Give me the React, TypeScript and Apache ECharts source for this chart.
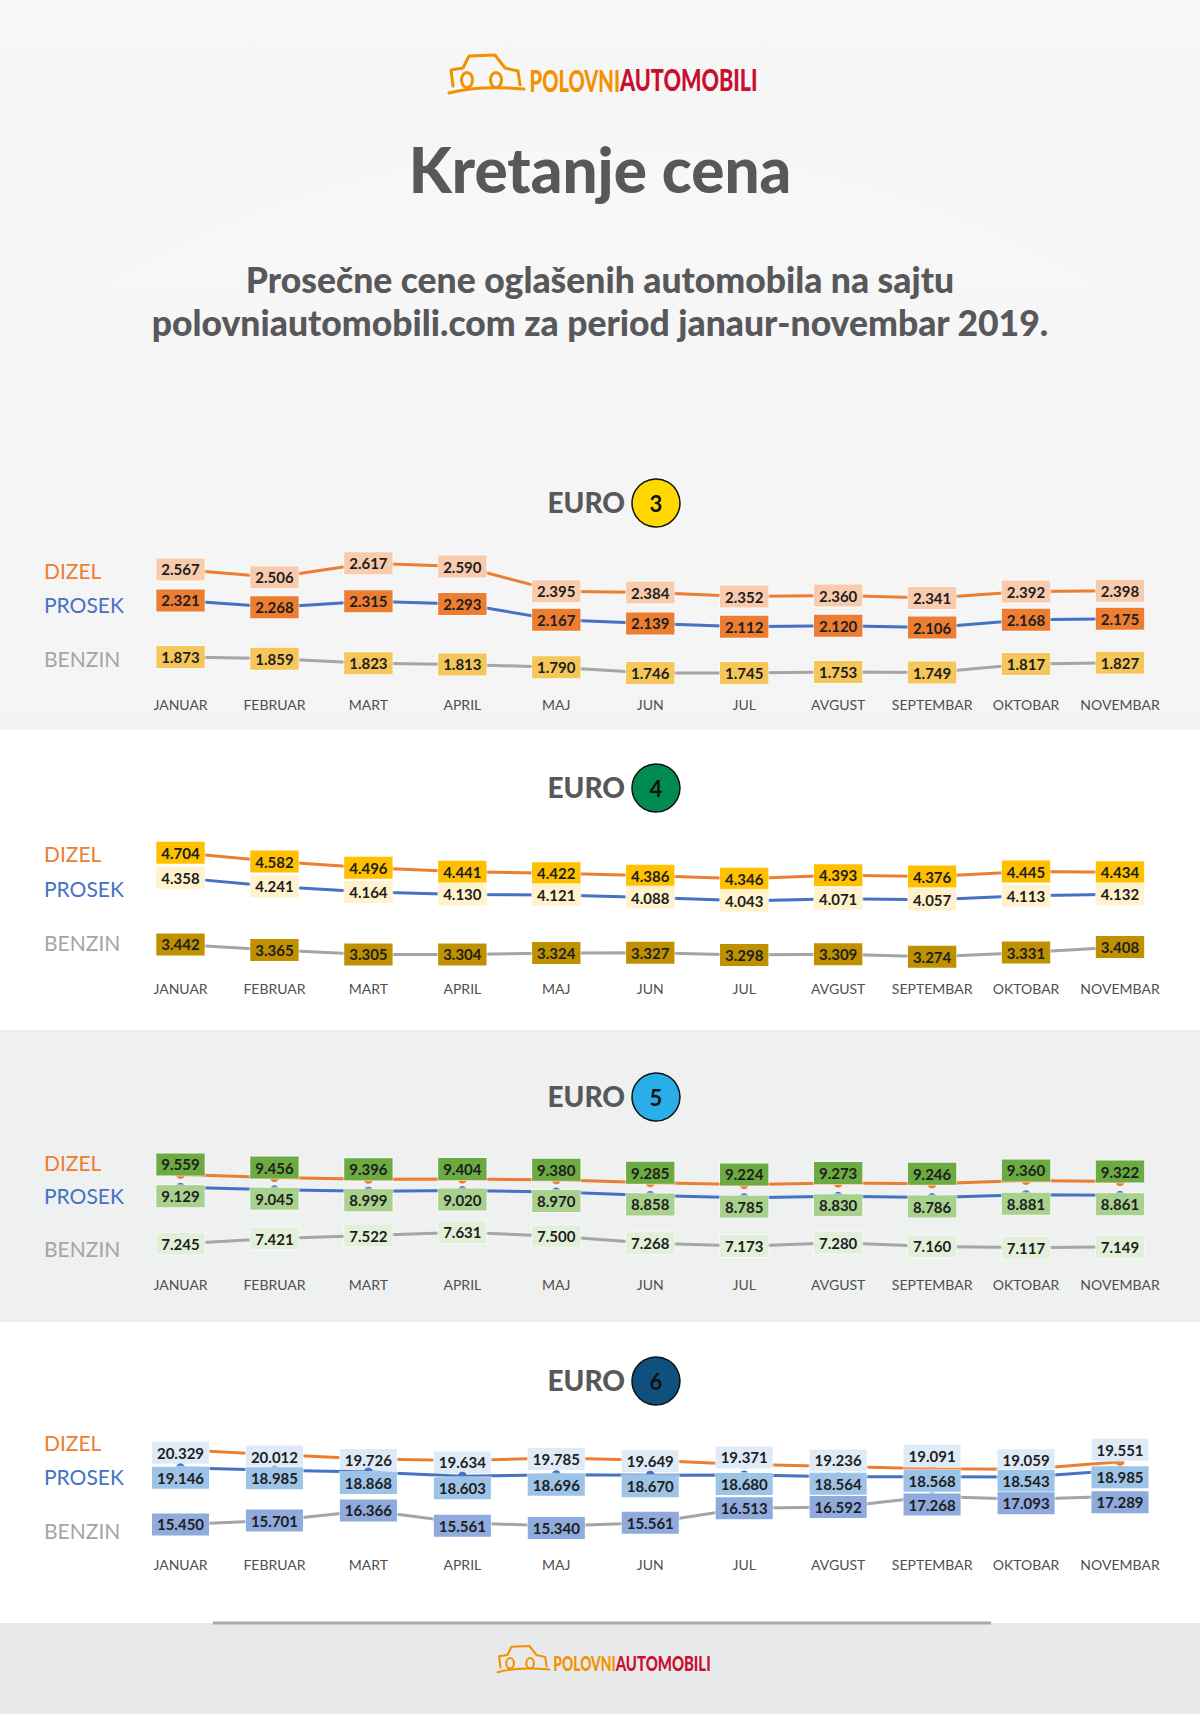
import React, { useEffect, useRef } from "react";
import * as echarts from "echarts";

const months = ["JANUAR", "FEBRUAR", "MART", "APRIL", "MAJ", "JUN", "JUL", "AVGUST", "SEPTEMBAR", "OKTOBAR", "NOVEMBAR"];
const seriesNames = ["DIZEL", "PROSEK", "BENZIN"];

const euro3Dizel = [2.567, 2.506, 2.617, 2.59, 2.395, 2.384, 2.352, 2.36, 2.341, 2.392, 2.398];
const euro3Prosek = [2.321, 2.268, 2.315, 2.293, 2.167, 2.139, 2.112, 2.12, 2.106, 2.168, 2.175];
const euro3Benzin = [1.873, 1.859, 1.823, 1.813, 1.79, 1.746, 1.745, 1.753, 1.749, 1.817, 1.827];

const euro4Dizel = [4.704, 4.582, 4.496, 4.441, 4.422, 4.386, 4.346, 4.393, 4.376, 4.445, 4.434];
const euro4Prosek = [4.358, 4.241, 4.164, 4.13, 4.121, 4.088, 4.043, 4.071, 4.057, 4.113, 4.132];
const euro4Benzin = [3.442, 3.365, 3.305, 3.304, 3.324, 3.327, 3.298, 3.309, 3.274, 3.331, 3.408];

const euro5Dizel = [9.559, 9.456, 9.396, 9.404, 9.38, 9.285, 9.224, 9.273, 9.246, 9.36, 9.322];
const euro5Prosek = [9.129, 9.045, 8.999, 9.02, 8.97, 8.858, 8.785, 8.83, 8.786, 8.881, 8.861];
const euro5Benzin = [7.245, 7.421, 7.522, 7.631, 7.5, 7.268, 7.173, 7.28, 7.16, 7.117, 7.149];

const euro6Dizel = [20.329, 20.012, 19.726, 19.634, 19.785, 19.649, 19.371, 19.236, 19.091, 19.059, 19.551];
const euro6Prosek = [19.146, 18.985, 18.868, 18.603, 18.696, 18.67, 18.68, 18.564, 18.568, 18.543, 18.985];
const euro6Benzin = [15.45, 15.701, 16.366, 15.561, 15.34, 15.561, 16.513, 16.592, 17.268, 17.093, 17.289];

const LINE_COLORS = ["#ed7d31", "#4472c4", "#a5a5a5"];
const FONT = "Lato";

// per-series vertical label shifts (style only), one value per month when given as an array
const panels = [
  {
    euro: "3", badge: "#ffd800", min: 1.6, max: 2.8, top: 540.1, height: 151.2, axisMargin: 6,
    titleY: 502, legendY: [570.5, 604, 658],
    data: [euro3Dizel, euro3Prosek, euro3Benzin],
    boxes: ["#f8cbad", "#ed7d31", "#f5c659"], shifts: [0, 0, 0] as any[],
  },
  {
    euro: "4", badge: "#008c50", min: 3, max: 5, top: 831.2, height: 145.4, axisMargin: 5,
    titleY: 787, legendY: [853.6, 888.5, 942],
    data: [euro4Dizel, euro4Prosek, euro4Benzin],
    boxes: ["#ffc000", "#fff2cc", "#bf9000"], shifts: [0, 0, 0] as any[],
  },
  {
    euro: "5", badge: "#2aaeea", min: 7, max: 10, top: 1161.2, height: 90, axisMargin: 26,
    titleY: 1096, legendY: [1162, 1195.6, 1248],
    data: [euro5Dizel, euro5Prosek, euro5Benzin],
    boxes: ["#6cab42", "#a9d18e", "#e2f0d9"], shifts: [-10, 9, 0] as any[],
  },
  {
    euro: "6", badge: "#10507f", min: 14, max: 22, top: 1424.2, height: 122.4, axisMargin: 11,
    titleY: 1380, legendY: [1442.7, 1476.5, 1530],
    data: [euro6Dizel, euro6Prosek, euro6Benzin],
    boxes: ["#deebf7", "#9dc3e6", "#8faadc"],
    shifts: [
      [3, 2, 1, 2, 1, 1, -7, -6, -13, -9, -12],
      [10, 8, 11, 12, 10, 11, 9, 7, 4, 4, 7],
      [0, 0, 0, 3, 2, 0, 0, 0, 8, 4, 6],
    ] as any[],
  },
];

function txt(text: string, x: number, y: number, opts: any = {}) {
  const align = opts.align || "left";
  return {
    type: "text",
    z: 5,
    style: {
      text, x, y,
      align, textAlign: align,
      verticalAlign: "middle", textVerticalAlign: "middle",
      fill: opts.fill || "#58585a",
      fontSize: opts.fontSize || 16,
      fontWeight: opts.fontWeight || "normal",
      fontFamily: opts.fontFamily || FONT,
    },
  };
}

function logo(x: number, y: number, s: number) {
  const st = { stroke: "#f39200", lineWidth: 3, fill: "none", lineJoin: "round", lineCap: "round" };
  return {
    type: "group", x, y, scaleX: s, scaleY: s, z: 5,
    children: [
      { type: "polyline", z: 5, shape: { points: [[5, 31], [3, 15], [15, 13], [21, 1], [47, 0], [57, 13], [70, 16], [72, 30]] }, style: st },
      { type: "ellipse", z: 5, shape: { cx: 19, cy: 25, rx: 5.5, ry: 7.5 }, style: st },
      { type: "ellipse", z: 5, shape: { cx: 48, cy: 25, rx: 5.5, ry: 7.5 }, style: st },
      { type: "bezierCurve", z: 5, shape: { x1: 1, y1: 38, cpx1: 30, cpy1: 30, x2: 76, y2: 34 }, style: st },
      {
        type: "group", x: 172, y: 25, scaleX: 0.67, z: 5,
        children: [txt("POLOVNI", 0, 0, { align: "right", fill: "#f39200", fontSize: 30, fontWeight: "900" })],
      },
      {
        type: "group", x: 172, y: 25, scaleX: 0.72, z: 5,
        children: [txt("AUTOMOBILI", 0, 0, { align: "left", fill: "#c8102e", fontSize: 30, fontWeight: "900" })],
      },
    ],
  };
}

export default function App() {
  const ref = useRef<HTMLDivElement>(null);

  useEffect(() => {
    document.body.style.margin = "0";
    const chart = echarts.init(ref.current as HTMLDivElement, null, { renderer: "svg" });

    const grids: any[] = [];
    const xAxes: any[] = [];
    const yAxes: any[] = [];
    const series: any[] = [];
    const elements: any[] = [];

    // backgrounds
    elements.push({
      type: "rect", z: 0, shape: { x: 0, y: 0, width: 1200, height: 730 },
      style: {
        fill: new echarts.graphic.LinearGradient(0, 0, 0, 1, [
          { offset: 0, color: "#f7f7f7" },
          { offset: 1, color: "#f1f1f1" },
        ]),
      },
    });
    elements.push({
      type: "circle", z: 0, shape: { cx: 600, cy: 1150, r: 1000 },
      style: { fill: "rgba(255,255,255,0.22)" },
    });
    elements.push({ type: "rect", z: 1, shape: { x: 0, y: 730, width: 1200, height: 300 }, style: { fill: "#ffffff" } });
    elements.push({ type: "rect", z: 1, shape: { x: 0, y: 1030, width: 1200, height: 292 }, style: { fill: "#eff0f0" } });
    elements.push({ type: "rect", z: 1, shape: { x: 0, y: 1322, width: 1200, height: 301 }, style: { fill: "#ffffff" } });
    elements.push({ type: "rect", z: 1, shape: { x: 0, y: 1623, width: 1200, height: 91 }, style: { fill: "#e8e9ea" } });
    elements.push({ type: "line", z: 2, shape: { x1: 213, y1: 1623, x2: 991, y2: 1623 }, style: { stroke: "#aaaaaa", lineWidth: 3 } });

    // header
    elements.push(logo(448, 55, 1));
    elements.push(txt("Kretanje cena", 600, 169, { align: "center", fontSize: 62, fontWeight: "900" }));
    elements.push(txt("Prosečne cene oglašenih automobila na sajtu", 600, 279, { align: "center", fontSize: 35.5, fontWeight: "900" }));
    elements.push(txt("polovniautomobili.com za period janaur-novembar 2019.", 600, 322, { align: "center", fontSize: 35.5, fontWeight: "900" }));
    elements.push(logo(497, 1646, 0.69));

    panels.forEach((p, pi) => {
      elements.push(txt("EURO", 625, p.titleY, { align: "right", fontSize: 28, fontWeight: "900" }));
      elements.push({
        type: "circle", z: 5, shape: { cx: 656, cy: p.titleY + 1, r: 24 },
        style: { fill: p.badge, stroke: "#111111", lineWidth: 1.5 },
      });
      elements.push(txt(p.euro, 656, p.titleY + 1, { align: "center", fontSize: 22, fontWeight: "bold", fill: "#111111" }));
      seriesNames.forEach((n, si) => {
        elements.push(txt(n, 44, p.legendY[si], { fill: LINE_COLORS[si], fontSize: 21 }));
      });

      grids.push({ left: 180.5, right: 80, top: p.top, height: p.height });
      xAxes.push({
        type: "category", gridIndex: pi, data: months, boundaryGap: false, z: 10,
        axisLine: { show: false }, axisTick: { show: false }, splitLine: { show: false },
        axisLabel: { margin: p.axisMargin, color: "#4f4f4f", fontSize: 14, fontFamily: FONT, interval: 0 },
      });
      yAxes.push({
        type: "value", gridIndex: pi, min: p.min, max: p.max, show: false,
        splitLine: { show: false },
      });
      p.data.forEach((vals, si) => {
        const sh = p.shifts[si];
        const baseLabel = {
          show: true,
          position: "inside",
          offset: [0, Array.isArray(sh) ? 0 : sh],
          formatter: (prm: any) => Number(prm.value).toFixed(3),
          backgroundColor: p.boxes[si],
          borderColor: "rgba(255,255,255,0.55)",
          borderWidth: 1,
          padding: [3, 5, 2, 5],
          lineHeight: 17,
          color: "#1e1e1e",
          fontSize: 15,
          fontWeight: "bold",
          fontFamily: FONT,
        };
        const seriesData = Array.isArray(sh)
          ? vals.map((v, i) => ({ value: v, label: { offset: [0, sh[i]] } }))
          : vals;
        series.push({
          type: "line",
          name: `EURO ${p.euro} ${seriesNames[si]}`,
          xAxisIndex: pi, yAxisIndex: pi,
          data: seriesData,
          color: LINE_COLORS[si],
          lineStyle: { width: 3, color: LINE_COLORS[si] },
          symbol: "circle", symbolSize: 9, showSymbol: true,
          itemStyle: { color: LINE_COLORS[si] },
          z: 3 + si,
          label: baseLabel,
          emphasis: { disabled: true },
        });
      });
    });

    chart.setOption({
      animation: false,
      backgroundColor: "#ffffff",
      grid: grids,
      xAxis: xAxes,
      yAxis: yAxes,
      series,
      graphic: { elements },
    });
    return () => chart.dispose();
  }, []);

  return <div ref={ref} style={{ width: 1200, height: 1714 }} />;
}
